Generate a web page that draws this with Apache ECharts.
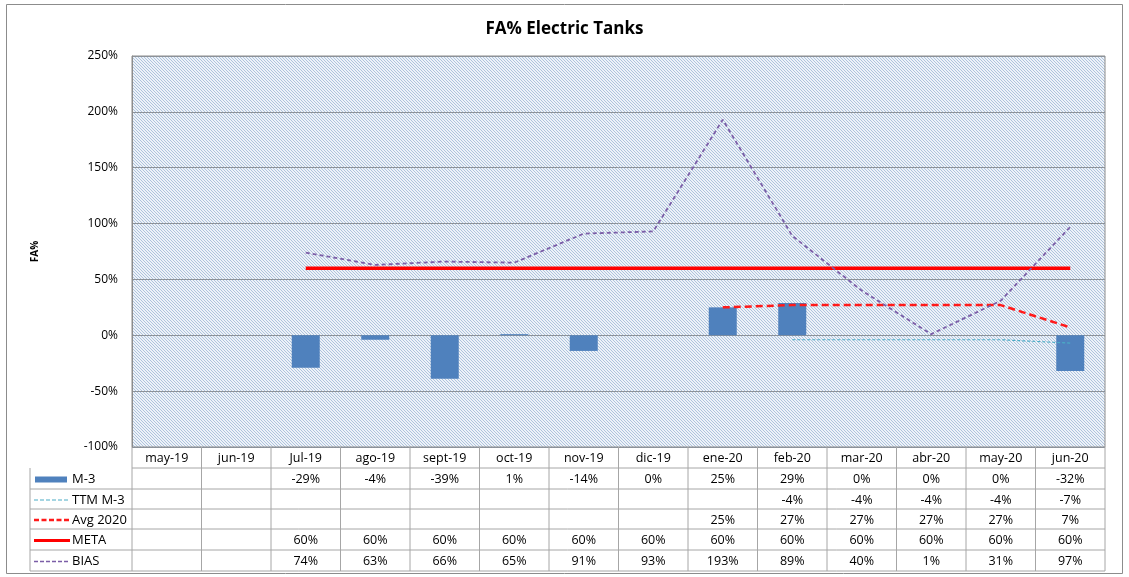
<!DOCTYPE html>
<html>
<head>
<meta charset="utf-8">
<script src="https://cdn.jsdelivr.net/npm/echarts@6/dist/echarts.min.js"></script>
<style>
  html, body { margin: 0; padding: 0; background: #fff; }
  #main { width: 1129px; height: 577px; }
</style>
</head>
<body>
<div id="main"></div>
<script>
// meses del eje x
var months = ['may-19', 'jun-19', 'Jul-19', 'ago-19', 'sept-19', 'oct-19', 'nov-19', 'dic-19',
              'ene-20', 'feb-20', 'mar-20', 'abr-20', 'may-20', 'jun-20'];
// valores en %
var m3      = [null, null, -29, -4, -39, 1, -14, 0, 25, 29, 0, 0, 0, -32];
var ttmM3   = [null, null, null, null, null, null, null, null, null, -4, -4, -4, -4, -7];
var avg2020 = [null, null, null, null, null, null, null, null, 25, 27, 27, 27, 27, 7];
var meta    = [null, null, 60, 60, 60, 60, 60, 60, 60, 60, 60, 60, 60, 60];
var bias    = [null, null, 74, 63, 66, 65, 91, 93, 193, 89, 40, 1, 31, 97];
var yTicks  = [-100, -50, 0, 50, 100, 150, 200, 250];

var FONT = 'Open Sans';

// trama diagonal del fondo
function hatch() {
    var c = document.createElement('canvas');
    c.width = 3; c.height = 3;
    var ctx = c.getContext('2d');
    ctx.fillStyle = '#edf2f8';
    ctx.fillRect(0, 0, 3, 3);
    ctx.strokeStyle = '#aec3dd';
    ctx.lineWidth = 1;
    ctx.beginPath();
    ctx.moveTo(-1, -1); ctx.lineTo(4, 4);
    ctx.moveTo(-1, 2); ctx.lineTo(1, 4);
    ctx.moveTo(2, -1); ctx.lineTo(4, 1);
    ctx.stroke();
    return c;
}

var myChart = echarts.init(document.getElementById('main'));

var option = {
    animation: false,
    backgroundColor: '#fff',
    title: {
        text: 'FA% Electric Tanks',
        left: 'center',
        top: 16,
        textStyle: { fontFamily: FONT, fontSize: 17, fontWeight: 'bold', color: '#000' }
    },
    grid: {
        left: 132, right: 24, top: 56, bottom: 130,
        show: true,
        backgroundColor: { image: hatch(), repeat: 'repeat' },
        borderColor: '#8c8c8c',
        borderWidth: 1
    },
    xAxis: {
        type: 'category',
        data: months,
        axisLine: { show: false },
        axisTick: { show: false },
        axisLabel: { show: false }
    },
    yAxis: {
        type: 'value',
        min: yTicks[0],
        max: yTicks[yTicks.length - 1],
        interval: 50,
        name: 'FA%',
        nameLocation: 'middle',
        nameGap: 92,
        nameRotate: 90,
        nameTextStyle: { fontFamily: FONT, fontSize: 10, fontWeight: 'bold', color: '#000' },
        axisLine: { show: true, lineStyle: { color: '#8c8c8c' } },
        axisTick: { show: false },
        axisLabel: {
            formatter: '{value}%',
            fontFamily: FONT, fontSize: 12, color: '#000', margin: 14
        },
        splitLine: { lineStyle: { color: '#8c9299', width: 1 } }
    },
    series: [
        {
            name: 'M-3', type: 'bar', data: m3, barWidth: 28,
            itemStyle: { color: '#4f81bd' }, z: 2
        },
        {
            name: 'TTM M-3', type: 'line', data: ttmM3, symbol: 'none',
            lineStyle: { color: '#4bacc6', width: 1.2, type: [3, 2] }, z: 3
        },
        {
            name: 'Avg 2020', type: 'line', data: avg2020, symbol: 'none',
            lineStyle: { color: '#ff1a1a', width: 2.5, type: [7, 4] }, z: 4
        },
        {
            name: 'META', type: 'line', data: meta, symbol: 'none',
            lineStyle: { color: '#ff0000', width: 3.5 }, z: 4
        },
        {
            name: 'BIAS', type: 'line', data: bias, symbol: 'none',
            lineStyle: { color: '#7b5ea7', width: 1.8, type: [4, 3] }, z: 5
        }
    ]
};

myChart.setOption(option);

// tabla de datos debajo del grafico
function pct(v) { return v == null ? '' : v + '%'; }

var rows = [
    { name: 'M-3', data: m3, mark: 'bar', color: '#4f81bd' },
    { name: 'TTM M-3', data: ttmM3, mark: [4, 2], color: '#4bacc6', w: 1.2 },
    { name: 'Avg 2020', data: avg2020, mark: [5, 2.5], color: '#ff1a1a', w: 2.5 },
    { name: 'META', data: meta, mark: 'solid', color: '#ff0000', w: 3 },
    { name: 'BIAS', data: bias, mark: [4, 2], color: '#7b5ea7', w: 1.6 }
];

var x0 = myChart.convertToPixel({ xAxisIndex: 0 }, 0);
var x1 = myChart.convertToPixel({ xAxisIndex: 0 }, 1);
var colW = x1 - x0;
var left = x0 - colW / 2;
var right = left + colW * months.length;
var tabLeft = 30;
var headTop = 447;
var rowEdges = [447, 468, 489, 509, 529, 550, 571];
var lineColor = '#a6a6a6';
var g = [];

function hline(xa, xb, y) {
    g.push({ type: 'line', shape: { x1: xa, y1: y, x2: xb, y2: y }, style: { stroke: lineColor, lineWidth: 1 } });
}
function vline(x, ya, yb) {
    g.push({ type: 'line', shape: { x1: x, y1: ya, x2: x, y2: yb }, style: { stroke: lineColor, lineWidth: 1 } });
}
function txt(x, y, s, align, size) {
    g.push({
        type: 'text', x: x, y: y,
        style: { text: s, fill: '#000', font: (size || 12.5) + 'px "' + FONT + '"', align: align || 'center', verticalAlign: 'middle' }
    });
}

// bordes
hline(left, right, rowEdges[1]);
for (var r = 2; r < rowEdges.length; r++) hline(tabLeft, right, rowEdges[r]);
for (var i = 0; i <= months.length; i++) vline(left + i * colW, headTop, rowEdges[rowEdges.length - 1]);
vline(tabLeft, rowEdges[1], rowEdges[rowEdges.length - 1]);

// encabezado
months.forEach(function (m, i) {
    txt(myChart.convertToPixel({ xAxisIndex: 0 }, i), (rowEdges[0] + rowEdges[1]) / 2 + 1, m);
});

// filas
rows.forEach(function (row, k) {
    var yc = (rowEdges[k + 1] + rowEdges[k + 2]) / 2 + 1;
    if (row.mark === 'bar') {
        g.push({ type: 'rect', shape: { x: 35, y: yc - 3, width: 32, height: 6 }, style: { fill: row.color } });
    } else {
        g.push({
            type: 'line', shape: { x1: 34, y1: yc, x2: 70, y2: yc },
            style: { stroke: row.color, lineWidth: row.w, lineDash: row.mark === 'solid' ? null : row.mark }
        });
    }
    txt(72, yc, row.name, 'left', 13);
    row.data.forEach(function (v, i) {
        txt(myChart.convertToPixel({ xAxisIndex: 0 }, i), yc, pct(v));
    });
});

// marco exterior
g.push({ type: 'rect', shape: { x: 6.5, y: 4.5, width: 1116, height: 569 }, style: { fill: null, stroke: '#8c8c8c', lineWidth: 1 } });

myChart.setOption({ graphic: g });
</script>
</body>
</html>
